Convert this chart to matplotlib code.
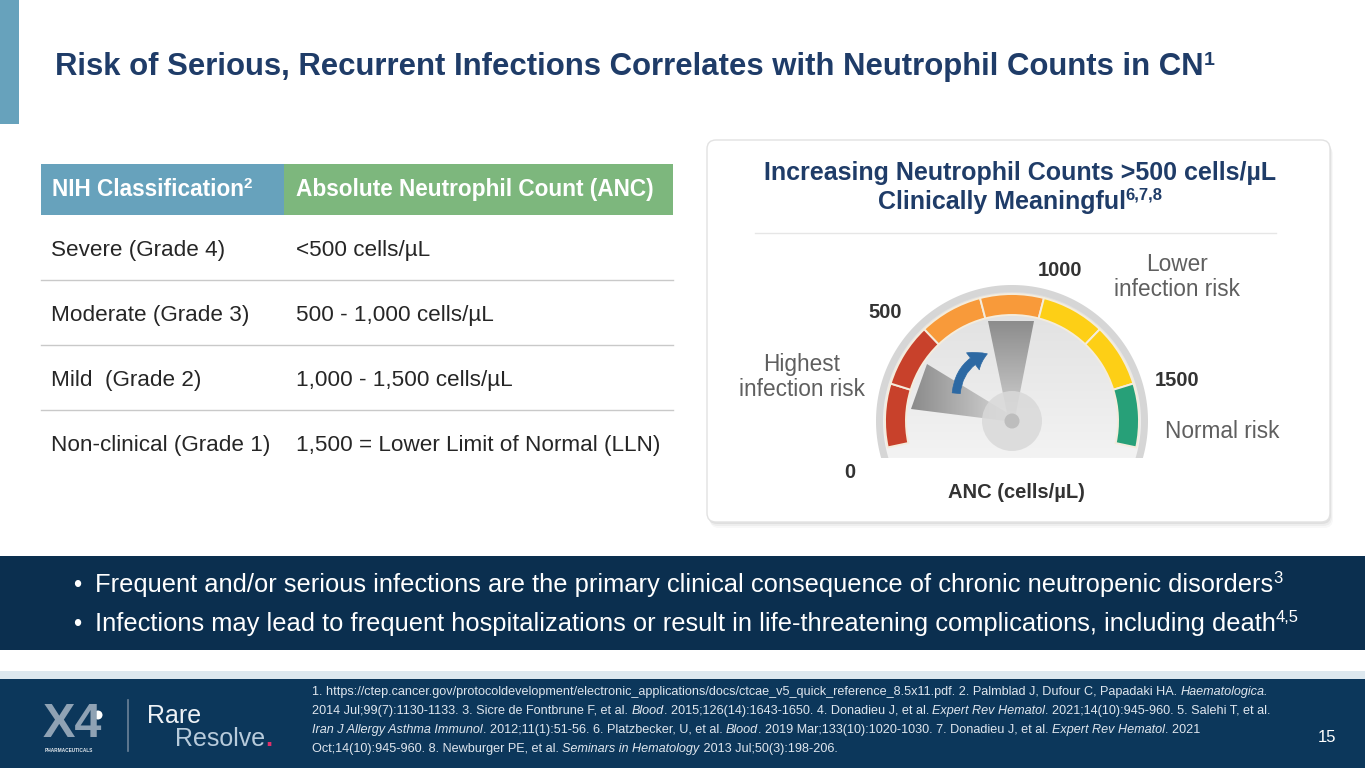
import numpy as np
import matplotlib
matplotlib.use('Agg')
import matplotlib.pyplot as plt
from matplotlib.patches import Rectangle, FancyBboxPatch, Circle, Wedge, Polygon, FancyArrowPatch

plt.rcParams['font.family'] = ['Liberation Sans', 'DejaVu Sans']

# ---- slide content ----
title = 'Risk of Serious, Recurrent Infections Correlates with Neutrophil Counts in CN'
title_ref = '1'

table_header = ['NIH Classification', 'Absolute Neutrophil Count (ANC)']
header_ref = '2'
grades = ['Severe (Grade 4)', 'Moderate (Grade 3)', 'Mild  (Grade 2)', 'Non-clinical (Grade 1)']
anc_ranges = ['<500 cells/µL', '500 - 1,000 cells/µL', '1,000 - 1,500 cells/µL',
              '1,500 = Lower Limit of Normal (LLN)']

panel_title = ['Increasing Neutrophil Counts >500 cells/µL', 'Clinically Meaningful']
panel_ref = '6,7,8'
gauge_ticks = ['0', '500', '1000', '1500']
gauge_colors = ['#c8412b', '#c8412b', '#f89a3a', '#f89a3a', '#fdcf16', '#fdcf16', '#27a078']
risk_labels = ['Highest\ninfection risk', 'Lower\ninfection risk', 'Normal risk']
gauge_axis = 'ANC (cells/µL)'

bullets = ['Frequent and/or serious infections are the primary clinical consequence of chronic neutropenic disorders',
           'Infections may lead to frequent hospitalizations or result in life-threatening complications, including death']
bullet_refs = ['3', '4,5']

refs = [
    [('1. https://ctep.cancer.gov/protocoldevelopment/electronic_applications/docs/ctcae_v5_quick_reference_8.5x11.pdf. 2. Palmblad J, Dufour C, Papadaki HA. ', 'normal'),
     ('Haematologica.', 'italic')],
    [('2014 Jul;99(7):1130-1133. 3. Sicre de Fontbrune F, et al. ', 'normal'), ('Blood', 'italic'),
     ('. 2015;126(14):1643-1650. 4. Donadieu J, et al. ', 'normal'), ('Expert Rev Hematol', 'italic'),
     ('. 2021;14(10):945-960. 5. Salehi T, et al.', 'normal')],
    [('Iran J Allergy Asthma Immunol', 'italic'), ('. 2012;11(1):51-56. 6. Platzbecker, U, et al. ', 'normal'),
     ('Blood', 'italic'), ('. 2019 Mar;133(10):1020-1030. 7. Donadieu J, et al. ', 'normal'),
     ('Expert Rev Hematol', 'italic'), ('. 2021', 'normal')],
    [('Oct;14(10):945-960. 8. Newburger PE, et al. ', 'normal'), ('Seminars in Hematology', 'italic'),
     (' 2013 Jul;50(3):198-206.', 'normal')],
]
page_no = '15'

# ---- colours ----
NAVY = '#1f3c68'
TEAL = '#67a2bc'
GREEN = '#7db77d'
BANNER = '#0b2f4f'
FOOTER = '#0c375b'

W, H = 1365, 768
fig = plt.figure(figsize=(W / 100, H / 100), dpi=100)
ax = fig.add_axes([0, 0, 1, 1])
ax.set_xlim(0, W)
ax.set_ylim(H, 0)
ax.axis('off')
fig.canvas.draw()
rend = fig.canvas.get_renderer()


def text_w(s, **kw):
    # width incl. spaces: measure between two bars
    t1 = ax.text(0, 0, '|' + s + '|', **kw)
    t2 = ax.text(0, 0, '||', **kw)
    w = t1.get_window_extent(rend).width - t2.get_window_extent(rend).width
    t1.remove()
    t2.remove()
    return w


def rich(x, y, parts, **kw):
    # parts: (text, extra kwargs); 'dy' raises superscripts
    for s, extra in parts:
        o = dict(kw)
        o.update(extra)
        dy = o.pop('dy', 0)
        ax.text(x, y + dy, s, va='baseline', ha='left', **o)
        x += text_w(s, **o)
    return x


# ---- title ----
ax.add_patch(Rectangle((0, 0), 19, 124, color=TEAL, lw=0))
rich(55, 75, [(title, {}), (title_ref, {'fontsize': 14, 'dy': -10})],
     fontsize=22.4, fontweight='bold', color=NAVY)

# ---- table ----
ax.add_patch(Rectangle((41, 164), 243, 51, color=TEAL, lw=0))
ax.add_patch(Rectangle((284, 164), 389, 51, color=GREEN, lw=0))
rich(52, 196, [(table_header[0], {}), (header_ref, {'fontsize': 11, 'dy': -8})],
     fontsize=16.3, fontweight='bold', color='white')
ax.text(296, 196, table_header[1], fontsize=16.3, fontweight='bold', color='white', va='baseline')
row_h = 65
for i, (g, a) in enumerate(zip(grades, anc_ranges)):
    yb = 256 + i * row_h
    ax.text(51, yb, g, fontsize=16.2, color='#262626', va='baseline')
    ax.text(296, yb, a, fontsize=16.2, color='#262626', va='baseline')
    if i < len(grades) - 1:
        ax.plot([41, 673], [yb + 24, yb + 24], color='#c9c9c9', lw=1)

# ---- gauge panel ----
for k, al in [(6, 0.05), (4, 0.08), (2, 0.12)]:
    ax.add_patch(FancyBboxPatch((707 + k / 2, 140 + k), 623, 382, boxstyle='round,pad=0,rounding_size=9',
                                fc='#7a7a7a', ec='none', alpha=al))
ax.add_patch(FancyBboxPatch((707, 140), 623, 382, boxstyle='round,pad=0,rounding_size=9',
                            fc='white', ec='#e2e2e2', lw=1))
ax.text(1020, 180, panel_title[0], fontsize=18, fontweight='bold', color=NAVY, ha='center', va='baseline')
wt = text_w(panel_title[1], fontsize=18, fontweight='bold')
ws = text_w(panel_ref, fontsize=12, fontweight='bold')
rich(1020 - (wt + ws) / 2, 209, [(panel_title[1], {}), (panel_ref, {'fontsize': 12, 'dy': -9})],
     fontsize=18, fontweight='bold', color=NAVY)
ax.plot([755, 1276], [233, 233], color='#e6e6e6', lw=1)

cx, cy = 1012, 421
y_cut = 458


def dial_shape(r):
    a = np.degrees(np.arcsin((y_cut - cy) / r))
    t = np.radians(np.linspace(-a, 180 + a, 200))
    return np.column_stack([cx + r * np.cos(t), cy - r * np.sin(t)])


ax.add_patch(Polygon(dial_shape(136), closed=True, fc='#d6d6d6', ec='none'))
face = Polygon(dial_shape(129), closed=True, fc='none', ec='none', transform=ax.transData)
ax.add_patch(face)
grad = np.linspace(0, 1, 100)[:, None]
face_cmap = matplotlib.colors.LinearSegmentedColormap.from_list('f', ['#dfdfdf', '#f3f3f3'])
im = ax.imshow(grad, cmap=face_cmap, extent=(cx - 130, cx + 130, y_cut, cy - 130),
               origin='upper', aspect='auto', zorder=2)
im.set_clip_path(face)

# coloured band
edges = np.linspace(192, -12, len(gauge_colors) + 1)
for c, a0, a1 in zip(gauge_colors, edges[:-1], edges[1:]):
    ax.add_patch(Wedge((cx, cy), 127, -a0, -a1, width=21, fc=c, ec='#f4ecdc', lw=1.4, zorder=3))

# ghost needle (previous value) and current needle, gradient filled
ghost = Polygon([(927, 364), (911, 409), (1006, 421), (1009, 414)], closed=True,
                fc='none', ec='none', transform=ax.transData)
ax.add_patch(ghost)
hcmap = matplotlib.colors.LinearSegmentedColormap.from_list('g', ['#8a8a8a', '#d6d6d6'])
im2 = ax.imshow(np.linspace(0, 1, 100)[None, :], cmap=hcmap, extent=(910, 1010, 422, 363),
                origin='upper', aspect='auto', zorder=4)
im2.set_clip_path(ghost)

needle = Polygon([(988, 321), (1034, 321), (1015, 418), (1008, 418)], closed=True,
                 fc='none', ec='none', transform=ax.transData)
ax.add_patch(needle)
vcmap = matplotlib.colors.LinearSegmentedColormap.from_list('n', ['#8c8c8c', '#d2d2d2'])
im3 = ax.imshow(np.linspace(0, 1, 100)[:, None], cmap=vcmap, extent=(986, 1036, 420, 320),
                origin='upper', aspect='auto', zorder=4)
im3.set_clip_path(needle)

ax.add_patch(Circle((cx, cy), 30, fc='#d9d9d9', ec='none', alpha=0.85, zorder=5))
ax.add_patch(Circle((cx, cy), 7.5, fc='#bdbdbd', ec='none', zorder=6))

ax.add_patch(FancyArrowPatch((956, 396), (990, 353), connectionstyle='arc3,rad=-0.35',
                             arrowstyle='simple,head_width=1.7,head_length=1.3,tail_width=0.65',
                             mutation_scale=9, fc='#2d69a3', ec='#2d69a3', lw=0.5, zorder=6))

tick_pos = [(850, 472), (885, 313), (1060, 270), (1177, 380)]
for lab, (tx, ty) in zip(gauge_ticks, tick_pos):
    ax.text(tx, ty, lab, fontsize=14.5, fontweight='bold', color='#333333', ha='center', va='center')
risk_pos = [(802, 377), (1177, 277), (1222, 432)]
for lab, (tx, ty) in zip(risk_labels, risk_pos):
    ax.text(tx, ty, lab, fontsize=16.3, color='#5f5f5f', ha='center', va='center', linespacing=1.1)
ax.text(1016, 493, gauge_axis, fontsize=14.5, fontweight='bold', color='#333333', ha='center', va='center')

# ---- key message banner ----
ax.add_patch(Rectangle((0, 556), W, 94, color=BANNER, lw=0))
for i, (b, r) in enumerate(zip(bullets, bullet_refs)):
    yb = 592 + i * 39
    ax.text(73, yb, '•', fontsize=17, color='white', va='baseline')
    rich(95, yb, [(b, {}), (r, {'fontsize': 12, 'dy': -9})], fontsize=18.4, color='white')

# ---- footer ----
ax.add_patch(Rectangle((0, 671), W, 8, color='#dde8ef', lw=0))
ax.add_patch(Rectangle((0, 679), W, H - 679, color=FOOTER, lw=0))
ax.text(43, 737, 'X4', fontsize=35, fontweight='bold', color='#8fa2b4', va='baseline')
ax.add_patch(Circle((98, 715), 4.5, fc='white', ec='none'))
ax.text(45, 750, 'PHARMACEUTICALS', fontsize=3.4, fontweight='bold', color='#dfe6ec', va='center')
ax.plot([128, 128], [700, 751], color='#6b8299', lw=1.2)
ax.text(147, 723, 'Rare', fontsize=18, color='#eef2f6', va='baseline')
xe = rich(175, 746, [('Resolve', {})], fontsize=18, color='#b8cbdb')
ax.text(xe, 746, '.', fontsize=18, color='#e0306a', va='baseline', fontweight='bold')

for i, line in enumerate(refs):
    rich(312, 695 + i * 19, [(s, {'fontstyle': st}) for s, st in line], fontsize=9.1, color='#dfe6ee')
ax.text(1327, 738, page_no, fontsize=12, color='white', ha='center', va='center')

ax.set_xlim(0, W)
ax.set_ylim(H, 0)
fig.savefig('out.png', dpi=100)
